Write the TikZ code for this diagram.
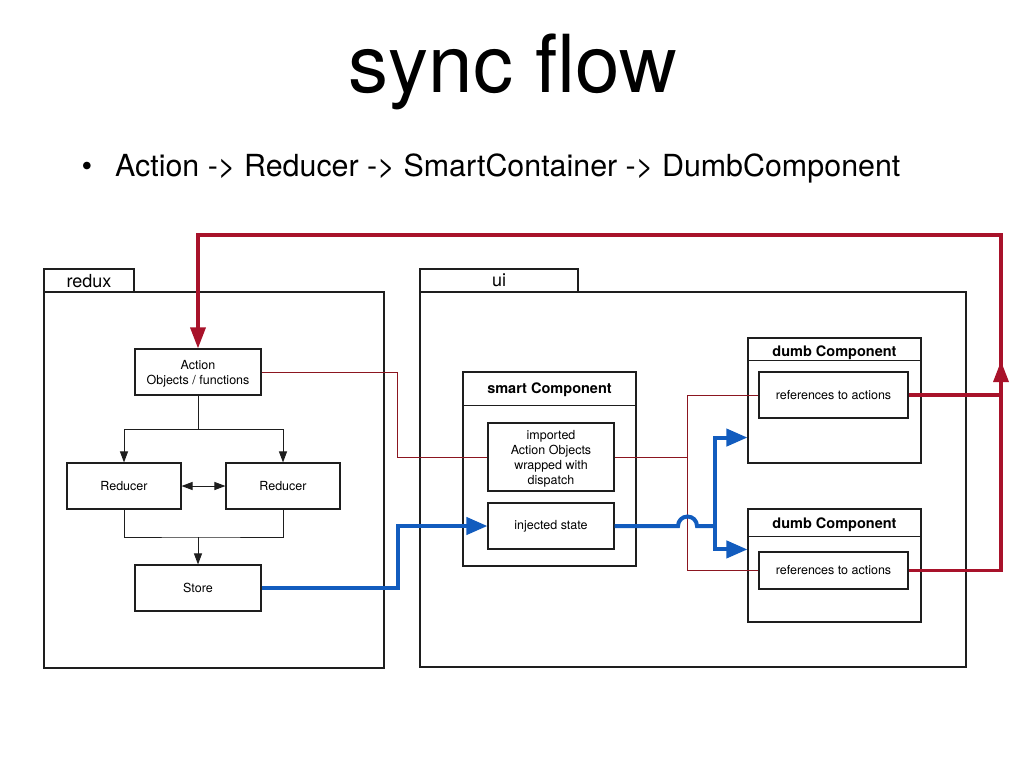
\documentclass[tikz,border=0pt]{standalone}
\usepackage{fontspec}
\setmainfont{TeX Gyre Heros}
\usetikzlibrary{arrows.meta,positioning}
\definecolor{flowred}{RGB}{168,18,42}
\definecolor{wirered}{RGB}{140,22,32}
\definecolor{flowblue}{RGB}{18,92,190}
\definecolor{boxline}{RGB}{30,30,30}
\begin{document}
\begin{tikzpicture}[x=1pt, y=-1pt,
    >={Triangle[length=11pt,width=8pt]},
    every node/.style={font=\fontsize{12.5}{15}\selectfont, align=center, inner sep=0pt},
    box/.style={draw=boxline, line width=1.1pt, fill=white},
    pkgbox/.style={draw=boxline, line width=1.1pt},
    pkgtab/.style={pkgbox, font=\fontsize{18}{20}\selectfont},
    comptitle/.style={font=\bfseries\fontsize{14.5}{16}\selectfont, anchor=base},
    link/.style={draw=boxline, line width=1pt},
    wire/.style={draw=wirered, line width=0.9pt},
    redflow/.style={draw=flowred, line width=3.4pt, -{Triangle[length=21pt,width=15pt]}},
    blueflow/.style={draw=flowblue, line width=4pt},
    bluetip/.style={-{Triangle[length=21pt,width=17pt]}}
]
\useasboundingbox (0,0) rectangle (1024,768);
\node[font=\fontsize{80}{82}\selectfont, anchor=base] (title) at (513,92) {sync flow};
\node[font=\fontsize{30.4}{34}\selectfont, anchor=base] (dot) at (87,176) {\textbullet};
\node[font=\fontsize{30.4}{34}\selectfont, anchor=base west] (point) at (115,176) {Action -> Reducer -> SmartContainer -> DumbComponent};

\node[pkgtab, minimum width=90pt, minimum height=23pt, text depth=0pt] (reduxtab) at (89,280.5) {redux};
\node[pkgbox, minimum width=340pt, minimum height=376pt] (redux) at (214,480) {};
\node[pkgtab, minimum width=158pt, minimum height=23pt, text depth=0pt] (uitab) at (499,280.5) {ui};
\node[pkgbox, minimum width=546pt, minimum height=375pt] (ui) at (693,479.5) {};

\node[box, minimum width=126pt, minimum height=46pt, text depth=0pt] (action) at (198,372) {Action\\Objects / functions};
\node[box, minimum width=114pt, minimum height=46pt] (reducerA) at (124,486) {Reducer};
\node[box, minimum width=114pt, minimum height=46pt] (reducerB) at (283,486) {Reducer};
\node[box, minimum width=126pt, minimum height=46pt] (store) at (198,588) {Store};

\node[box, minimum width=173pt, minimum height=194pt] (smart) at (549.5,469) {};
\node[comptitle] (smarthead) at ([yshift=-22pt]smart.north) {smart Component};
\draw[link] ([yshift=-34pt]smart.north west) -- ([yshift=-34pt]smart.north east);
\node[box, minimum width=126pt, minimum height=68pt, text depth=0pt] (imported) at (551,457) {imported\\Action Objects\\wrapped with\\dispatch};
\node[box, minimum width=126pt, minimum height=46pt] (injected) at (551,526) {injected state};

\node[box, minimum width=173pt, minimum height=125pt] (dumbA) at (834.5,400.5) {};
\node[comptitle] (dumbAhead) at ([yshift=-19pt]dumbA.north) {dumb Component};
\draw[link] ([yshift=-23pt]dumbA.north west) -- ([yshift=-23pt]dumbA.north east);
\node[box, minimum width=149pt, minimum height=46pt] (refA) at (833.5,395) {references to actions};

\node[box, minimum width=173pt, minimum height=113pt] (dumbB) at (834.5,565.5) {};
\node[comptitle] (dumbBhead) at ([yshift=-20pt]dumbB.north) {dumb Component};
\draw[link] ([yshift=-28pt]dumbB.north west) -- ([yshift=-28pt]dumbB.north east);
\node[box, minimum width=149pt, minimum height=37pt] (refB) at (833.5,570.5) {references to actions};

\coordinate (split) at (198,429);
\coordinate (merge) at (198,537);
\draw[link, ->] (action.south) -- (split) -| (reducerA.north);
\draw[link, ->] (split) -| (reducerB.north);
\draw[link, <->] (reducerA.east) -- (reducerB.west);
\draw[link] (reducerA.south) |- (merge) -| (reducerB.south);
\draw[link, ->] (merge) -- (store.north);

\coordinate (bendA) at (397,457);
\coordinate (junc) at (687,457);
\draw[wire] (action.east) -| (bendA) -- (imported.west);
\draw[wire] (imported.east) -- (junc);
\draw[wire] (junc) |- (refA.west);
\draw[wire] (junc) |- (refB.west);

\coordinate (bendB) at (398,526);
\coordinate (hopstart) at (678,526);
\coordinate (fork) at (715,526);
\draw[blueflow, bluetip] (store.east) -| (bendB) -- (injected.west);
\draw[blueflow] (injected.east) -- (hopstart) arc[start angle=180, end angle=0, radius=9.5pt] -- (fork);
\draw[blueflow, bluetip] (fork) |- ([yshift=26pt]dumbA.south west);
\draw[blueflow, bluetip] (fork) |- ([yshift=-41pt]dumbB.north west);

\coordinate (rtop) at (1001,235);
\coordinate (rup) at (1001,361);
\draw[redflow] (refA.east) -| (rtop) -| (action.north);
\draw[redflow] (refB.east) -| (rup);
\end{tikzpicture}
\end{document}
